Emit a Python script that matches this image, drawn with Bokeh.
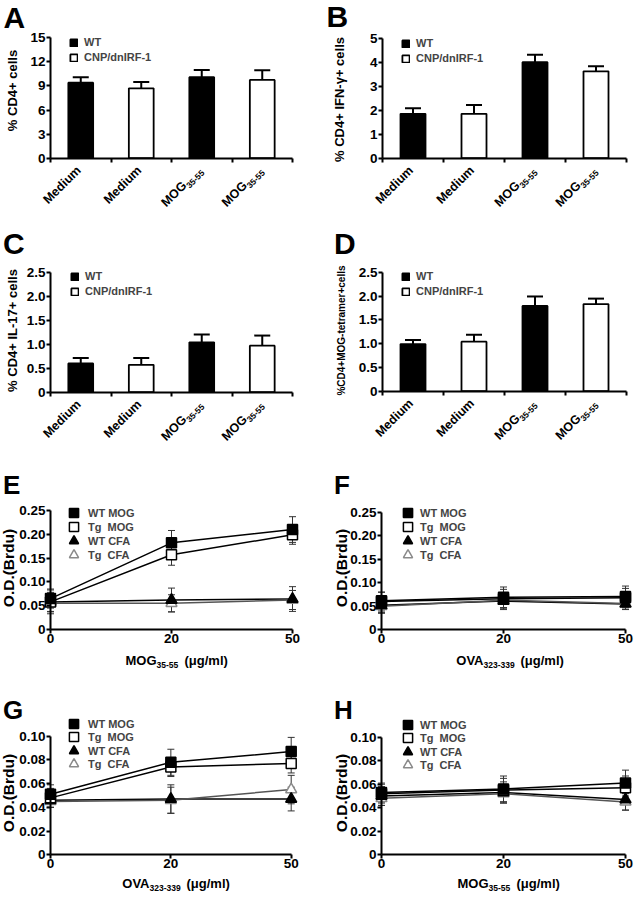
import numpy as np
from bokeh.plotting import figure
from bokeh.models import (ColumnDataSource, FixedTicker, Range1d, Label, LabelSet,
                          Legend, LegendItem, Whisker, TeeHead)
from bokeh.layouts import column, row
from bokeh.embed import file_html
from bokeh.resources import INLINE
from bokeh.core.properties import value

FONT = "Liberation Sans"

# ---------------- data: bar panels A-D ----------------
bar_categories = ["Medium", "Medium", "MOG", "MOG"]
bar_subscripts = ["", "", "35-55", "35-55"]
bar_groups = ["WT", "CNP/dnIRF-1", "WT", "CNP/dnIRF-1"]

a_values = [9.4, 8.7, 10.1, 9.75]
a_errors = [0.7, 0.8, 0.9, 1.2]
a_ticks = [0, 3, 6, 9, 12, 15]
a_tick_labels = ["0", "3", "6", "9", "12", "15"]

b_values = [1.86, 1.86, 4.02, 3.64]
b_errors = [0.23, 0.37, 0.31, 0.21]
b_ticks = [0, 1, 2, 3, 4, 5]
b_tick_labels = ["0", "1", "2", "3", "4", "5"]

c_values = [0.60, 0.57, 1.04, 0.97]
c_errors = [0.11, 0.14, 0.16, 0.21]
c_ticks = [0, 0.5, 1.0, 1.5, 2.0, 2.5]
c_tick_labels = ["0", "0.5", "1.0", "1.5", "2.0", "2.5"]

d_values = [0.99, 1.04, 1.79, 1.83]
d_errors = [0.085, 0.145, 0.20, 0.115]
d_ticks = c_ticks
d_tick_labels = c_tick_labels

# ---------------- data: line panels E-H ----------------
doses = ["0", "20", "50"]
series_names = ["WT MOG", "Tg  MOG", "WT CFA", "Tg  CFA"]

e_values = [[0.065, 0.182, 0.210],
            [0.058, 0.157, 0.199],
            [0.058, 0.062, 0.064],
            [0.055, 0.055, 0.062]]
e_errors = [[0.020, 0.026, 0.027],
            [0.020, 0.022, 0.020],
            [0.025, 0.025, 0.026],
            [0.018, 0.018, 0.020]]

f_values = [[0.062, 0.069, 0.071],
            [0.060, 0.066, 0.068],
            [0.052, 0.061, 0.055],
            [0.050, 0.063, 0.056]]
f_errors = [[0.018, 0.022, 0.022],
            [0.020, 0.020, 0.020],
            [0.015, 0.018, 0.012],
            [0.015, 0.016, 0.012]]

g_values = [[0.051, 0.078, 0.087],
            [0.048, 0.074, 0.077],
            [0.046, 0.047, 0.047],
            [0.045, 0.046, 0.055]]
g_errors = [[0.008, 0.011, 0.012],
            [0.008, 0.008, 0.008],
            [0.006, 0.012, 0.010],
            [0.005, 0.011, 0.012]]

h_values = [[0.053, 0.056, 0.061],
            [0.052, 0.055, 0.057],
            [0.050, 0.053, 0.047],
            [0.048, 0.052, 0.045]]
h_errors = [[0.008, 0.011, 0.011],
            [0.008, 0.010, 0.010],
            [0.008, 0.009, 0.009],
            [0.006, 0.008, 0.007]]

od_ticks_e = [0, 0.05, 0.10, 0.15, 0.20, 0.25]
od_labels_e = ["0", "0.05", "0.10", "0.15", "0.20", "0.25"]
od_ticks_g = [0, 0.02, 0.04, 0.06, 0.08, 0.10]
od_labels_g = ["0", "0.02", "0.04", "0.06", "0.08", "0.10"]

series_styles = [
    dict(marker="square", fill="black", line="black", size=10, lcol="black"),
    dict(marker="square", fill="white", line="black", size=10, lcol="black"),
    dict(marker="triangle", fill="black", line="black", size=11, lcol="black"),
    dict(marker="triangle", fill="white", line="#8a8a8a", size=11, lcol="#555555"),
]

C45 = 0.7071
MAIN_FS = 12.5
SUB_FS = 8.5
KB = 0.35          # empirical shift of the rendered baseline (in em) for "alphabetic"
TICK_FS = "13.5px"
LEG_FS = "11px"


class Geo:
    """Pixel layout of one panel: where the data origin / extremes sit in the canvas."""
    def __init__(self, W, H, px0, px1, x1, py0, py1, y1):
        self.W, self.H = W, H
        self.sx = x1 / (px1 - px0)
        self.sy = y1 / (py0 - py1)
        self.xs = -px0 * self.sx
        self.xe = self.xs + W * self.sx
        self.ys = -(H - py0) * self.sy
        self.ye = self.ys + H * self.sy

    def X(self, px):
        return self.xs + px * self.sx

    def Y(self, py):
        return self.ye - py * self.sy


def base_fig(geo, xmax, ymax):
    p = figure(width=geo.W, height=geo.H, x_range=Range1d(geo.xs, geo.xe),
               y_range=Range1d(geo.ys, geo.ye), min_border_left=0, min_border_right=0,
               min_border_top=0, min_border_bottom=0,
               output_backend="svg", toolbar_location=None, title=None)
    p.grid.visible = False
    p.outline_line_color = None
    p.background_fill_color = "white"
    p.border_fill_color = "white"
    for ax in (p.xaxis[0], p.yaxis[0]):
        ax.fixed_location = 0
        ax.axis_line_width = 2
        ax.axis_line_color = "black"
        ax.major_tick_line_width = 2
        ax.major_tick_line_color = "black"
        ax.major_tick_in = 0
        ax.major_tick_out = 4
        ax.minor_tick_line_color = None
        ax.major_label_text_font = FONT
        ax.major_label_text_font_style = "bold"
        ax.major_label_text_font_size = TICK_FS
        ax.major_label_text_color = "black"
        ax.major_label_standoff = 1
    p.xaxis.bounds = (0, xmax)
    p.yaxis.bounds = (0, ymax)
    return p


def add_text(p, geo, text, px, py, fs, rotated=False, align="left"):
    """Place text whose alphabetic baseline passes through canvas pixel (px, py)."""
    shift = KB * fs
    if rotated:
        x, y, ang = geo.X(px - shift), geo.Y(py), np.pi / 2
    else:
        x, y, ang = geo.X(px), geo.Y(py - shift), 0.0
    p.add_layout(Label(x=x, y=y, text=text, angle=ang,
                       text_align=align, text_baseline="alphabetic", text_font=FONT,
                       text_font_style="bold", text_font_size=f"{fs}px", text_color="black"))


def set_yaxis(p, ticks, labels):
    p.yaxis.ticker = FixedTicker(ticks=ticks)
    p.yaxis.major_label_overrides = {float(t): l for t, l in zip(ticks, labels)}


def bar_panel(geo, letter, letter_pos, ylabel, ylabel_fs, ylabel_pos, values, errors,
              yticks, ytick_labels, legend_loc):
    ymax = yticks[-1]
    p = base_fig(geo, 4, ymax)
    xs = [i + 0.5 for i in range(len(values))]
    wt = [i for i, grp in enumerate(bar_groups) if grp == "WT"]
    tg = [i for i, grp in enumerate(bar_groups) if grp != "WT"]
    s_wt = ColumnDataSource(dict(x=[xs[i] for i in wt], top=[values[i] for i in wt]))
    s_tg = ColumnDataSource(dict(x=[xs[i] for i in tg], top=[values[i] for i in tg]))
    r_wt = p.vbar(x="x", top="top", width=0.41, source=s_wt, fill_color="black",
                  line_color="black", line_width=1.8)
    r_tg = p.vbar(x="x", top="top", width=0.41, source=s_tg, fill_color="white",
                  line_color="black", line_width=1.8)
    es = ColumnDataSource(dict(x=xs, val=values,
                               upper=[v + e for v, e in zip(values, errors)]))
    p.add_layout(Whisker(source=es, base="x", lower="val", upper="upper", dimension="height",
                         line_width=2, line_color="black", level="annotation",
                         upper_head=TeeHead(size=16, line_width=2, line_color="black"),
                         lower_head=None))
    p.xaxis.ticker = FixedTicker(ticks=[0, 1, 2, 3, 4])
    p.xaxis.major_label_overrides = {float(i): "" for i in range(5)}
    set_yaxis(p, yticks, ytick_labels)

    # rotated category labels (main text + subscript); offsets in screen px (x right, y down)
    ex, ey = 4.0, 16.0
    km = KB * MAIN_FS * C45
    ks = KB * SUB_FS * C45
    mx_, my_, sx_, sy_ = [], [], [], []
    for cx, sub in zip(xs, bar_subscripts):
        if sub:
            w = SUB_FS * (0.556 * (len(sub) - 1) + 0.333)
            dx, dy = ex - C45 * w, ey + C45 * w
            mx_.append(cx + (dx - km) * geo.sx); my_.append(-(dy - km) * geo.sy)
            sx_.append(cx + (dx + 1.4 - ks) * geo.sx); sy_.append(-(dy + 1.4 - ks) * geo.sy)
        else:
            mx_.append(cx + (ex - km) * geo.sx); my_.append(-(ey - km) * geo.sy)
            sx_.append(cx); sy_.append(0.0)
    ls = ColumnDataSource(dict(mx=mx_, my=my_, sx=sx_, sy=sy_,
                               text=bar_categories, sub=bar_subscripts))
    p.add_layout(LabelSet(x="mx", y="my", text="text", source=ls,
                          angle=np.pi / 4, text_align="right", text_baseline="alphabetic",
                          text_font=value(FONT), text_font_style="bold",
                          text_font_size=value(f"{MAIN_FS}px"), text_color="black"))
    p.add_layout(LabelSet(x="sx", y="sy", text="sub", source=ls,
                          angle=np.pi / 4, text_align="left", text_baseline="alphabetic",
                          text_font=value(FONT), text_font_style="bold",
                          text_font_size=value(f"{SUB_FS}px"), text_color="black"))

    leg = Legend(items=[LegendItem(label="WT", renderers=[r_wt]),
                        LegendItem(label="CNP/dnIRF-1", renderers=[r_tg])],
                 location=legend_loc, orientation="vertical", glyph_width=9, glyph_height=9,
                 label_height=12, spacing=3, padding=0, margin=0, label_standoff=6,
                 border_line_color=None, background_fill_alpha=0,
                 label_text_font=FONT, label_text_font_style="bold",
                 label_text_font_size=LEG_FS)
    p.add_layout(leg)

    add_text(p, geo, letter, letter_pos[0], letter_pos[1], 30)
    add_text(p, geo, ylabel, ylabel_pos[0], ylabel_pos[1], ylabel_fs, rotated=True, align="center")
    return p


def line_panel(geo, letter, letter_pos, ylabel_pos, values, errors, yticks, ytick_labels,
               legend_locs, legend_standoff, legend_spacing, xl_main, xl_sub, xl_pos):
    n = len(doses)
    p = base_fig(geo, n - 1, yticks[-1])
    xs = list(range(n))
    srcs = []
    for k, (vals, errs) in enumerate(zip(values, errors)):
        st = series_styles[k]
        src = ColumnDataSource(dict(x=xs, y=vals,
                                    lower=[v - e for v, e in zip(vals, errs)],
                                    upper=[v + e for v, e in zip(vals, errs)]))
        p.line("x", "y", source=src, line_color=st["lcol"], line_width=1.5)
        p.add_layout(Whisker(source=src, base="x", lower="lower", upper="upper",
                             dimension="height", line_color="#333333", line_width=1,
                             upper_head=TeeHead(size=7, line_color="#333333", line_width=1),
                             lower_head=TeeHead(size=7, line_color="#333333", line_width=1)))
        srcs.append(src)
    rs = [None] * len(srcs)
    for k in reversed(range(len(srcs))):
        st = series_styles[k]
        rs[k] = p.scatter("x", "y", source=srcs[k], marker=st["marker"], size=st["size"],
                          fill_color=st["fill"], line_color=st["line"], line_width=1.5)
    p.xaxis.ticker = FixedTicker(ticks=xs)
    p.xaxis.major_label_overrides = {float(i): d for i, d in enumerate(doses)}
    p.xaxis.major_label_standoff = 0
    set_yaxis(p, yticks, ytick_labels)

    # legend split in two interleaved columns so markers keep their size
    for part, loc in zip((0, 1), legend_locs):
        idx = [part, part + 2]
        leg = Legend(items=[LegendItem(label=series_names[i], renderers=[rs[i]]) for i in idx],
                     location=loc, orientation="vertical", glyph_width=23, glyph_height=23,
                     label_height=12, spacing=legend_spacing, padding=0, margin=0,
                     label_standoff=legend_standoff,
                     border_line_color=None, background_fill_alpha=0,
                     label_text_font=FONT, label_text_font_style="bold",
                     label_text_font_size=LEG_FS)
        p.add_layout(leg)

    add_text(p, geo, letter, letter_pos[0], letter_pos[1], 26)
    add_text(p, geo, "O.D.(Brdu)", ylabel_pos[0], ylabel_pos[1], 15.5, rotated=True, align="center")
    mx, px, by = xl_pos
    add_text(p, geo, xl_main, mx, by, 13, align="right")
    add_text(p, geo, xl_sub, mx, by + 2, SUB_FS, align="left")
    add_text(p, geo, "(μg/ml)", px, by, 13, align="left")
    return p


# canvas layout: left column 326 px, right 312 px; rows 226/227/231/215 px
gA = Geo(326, 226, 50, 292, 4, 157.7, 37.3, 15)
gB = Geo(312, 226, 56, 300, 4, 157.7, 38.3, 5)
gC = Geo(326, 227, 50, 292, 4, 165.7, 45.7, 2.5)
gD = Geo(312, 227, 56, 300, 4, 164.7, 45.7, 2.5)
gE = Geo(326, 231, 50, 292, 2, 176.0, 57.0, 0.25)
gF = Geo(312, 231, 55, 299, 2, 176.3, 58.7, 0.25)
gG = Geo(326, 215, 50, 290.7, 2, 170.3, 51.7, 0.10)
gH = Geo(312, 215, 55, 299, 2, 170.3, 52.7, 0.10)

pA = bar_panel(gA, "A", (3, 27), "% CD4+ cells", 13, (16.5, 90),
               a_values, a_errors, a_ticks, a_tick_labels, (69, 163))
pB = bar_panel(gB, "B", (0, 26.7), "% CD4+ IFN-γ+ cells", 13, (18, 99),
               b_values, b_errors, b_ticks, b_tick_labels, (75, 162))
pC = bar_panel(gC, "C", (2.5, 27.3), "% CD4+ IL-17+ cells", 13, (16.5, 104),
               c_values, c_errors, c_ticks, c_tick_labels, (70, 156))
pD = bar_panel(gD, "D", (7.5, 27.3), "%CD4+MOG-tetramer+cells", 10, (18, 104),
               d_values, d_errors, d_ticks, d_tick_labels, (75, 156))

pE = line_panel(gE, "E", (2.5, 40.3), (13.4, 114.5), e_values, e_errors, od_ticks_e, od_labels_e,
                [(62, 132), (62, 118)], 3, 5, "MOG", "35-55", (156, 184, 212))
pF = line_panel(gF, "F", (7.5, 40.3), (20.4, 114.5), f_values, f_errors, od_ticks_e, od_labels_e,
                [(70, 132), (70, 118)], 1, 5, "OVA", "323-339", (157, 194, 212))
pG = line_panel(gG, "G", (2.5, 34.3), (13.4, 108.5), g_values, g_errors, od_ticks_g, od_labels_g,
                [(62, 137), (62, 124)], 3, 4, "OVA", "323-339", (149, 186, 204))
pH = line_panel(gH, "H", (7.5, 34.3), (20.4, 108.5), h_values, h_errors, od_ticks_g, od_labels_g,
                [(70, 136), (70, 123)], 1, 4, "MOG", "35-55", (162, 190, 204))

layout = column(row(pA, pB), row(pC, pD), row(pE, pF), row(pG, pH))
open("out.html", "w").write(file_html(layout, INLINE, title="figure"))
